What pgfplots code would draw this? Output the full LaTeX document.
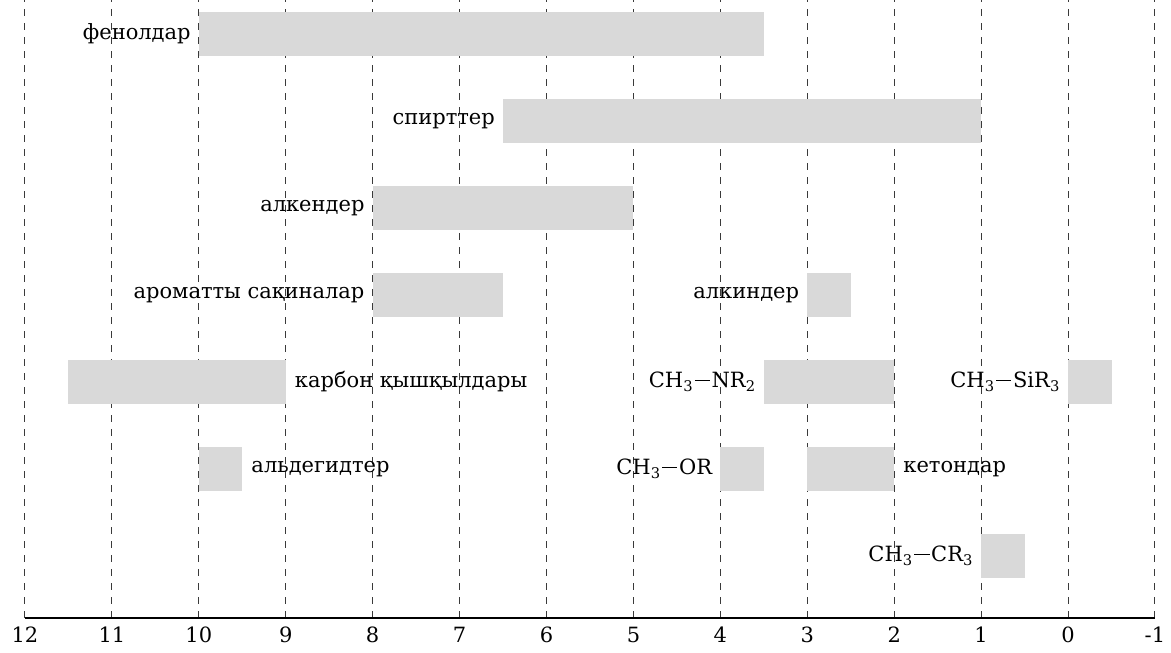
\documentclass[border=0pt]{standalone}
\usepackage{fontspec}
\setmainfont{DejaVu Serif}
\usepackage{pgfplots}
\pgfplotsset{compat=1.18}
\definecolor{barcol}{HTML}{D9D9D9}
\definecolor{gridcol}{HTML}{3A3A3A}
\newcommand{\lbl}{\fontsize{21}{24}\selectfont}
\newcommand{\bond}{\kern0.08em\rule[0.3em]{0.72em}{0.075em}\kern0.08em}
\begin{document}
\begin{tikzpicture}
\path[use as bounding box] (-25pt,-35pt) rectangle (1146pt,618pt);
\begin{axis}[
  scale only axis, width=1130pt, height=618pt,
  x dir=reverse, xmin=-1, xmax=12, ymin=0.287, ymax=7.391,
  xtick={12,11,10,9,8,7,6,5,4,3,2,1,0,-1},
  xticklabels={12,11,10,9,8,7,6,5,4,3,2,1,0,-1},
  ytick=\empty,
  axis x line=bottom, axis y line=none,
  x axis line style={-, line width=1.5pt, black},
  major tick length=0pt,
  xmajorgrids,
  grid style={dashed, dash pattern=on 7pt off 7pt, gridcol, line width=1pt},
  xticklabel style={font=\lbl, inner sep=0pt, anchor=north, yshift=-9pt},
  clip=false,
]
% y = row (7 top ... 1 bottom), bars from x1 to x2, half height 0.25
\addplot[fill=barcol, draw=none] coordinates {(10,6.75) (3.5,6.75) (3.5,7.25) (10,7.25)} -- cycle;
\addplot[fill=barcol, draw=none] coordinates {(6.5,5.75) (1,5.75) (1,6.25) (6.5,6.25)} -- cycle;
\addplot[fill=barcol, draw=none] coordinates {(8,4.75) (5,4.75) (5,5.25) (8,5.25)} -- cycle;
\addplot[fill=barcol, draw=none] coordinates {(8,3.75) (6.5,3.75) (6.5,4.25) (8,4.25)} -- cycle;
\addplot[fill=barcol, draw=none] coordinates {(3,3.75) (2.5,3.75) (2.5,4.25) (3,4.25)} -- cycle;
\addplot[fill=barcol, draw=none] coordinates {(11.5,2.75) (9,2.75) (9,3.25) (11.5,3.25)} -- cycle;
\addplot[fill=barcol, draw=none] coordinates {(3.5,2.75) (2,2.75) (2,3.25) (3.5,3.25)} -- cycle;
\addplot[fill=barcol, draw=none] coordinates {(0,2.75) (-0.5,2.75) (-0.5,3.25) (0,3.25)} -- cycle;
\addplot[fill=barcol, draw=none] coordinates {(10,1.75) (9.5,1.75) (9.5,2.25) (10,2.25)} -- cycle;
\addplot[fill=barcol, draw=none] coordinates {(4,1.75) (3.5,1.75) (3.5,2.25) (4,2.25)} -- cycle;
\addplot[fill=barcol, draw=none] coordinates {(3,1.75) (2,1.75) (2,2.25) (3,2.25)} -- cycle;
\addplot[fill=barcol, draw=none] coordinates {(1,0.75) (0.5,0.75) (0.5,1.25) (1,1.25)} -- cycle;

\begin{scope}[every node/.style={font=\lbl, inner sep=0pt}]
\node[anchor=east, xshift=-8pt] at (axis cs:10,7) {фенолдар};
\node[anchor=east, xshift=-8pt] at (axis cs:6.5,6) {спирттер};
\node[anchor=east, xshift=-8pt] at (axis cs:8,5) {алкендер};
\node[anchor=east, xshift=-8pt] at (axis cs:8,4) {ароматты сақиналар};
\node[anchor=east, xshift=-8pt] at (axis cs:3,4) {алкиндер};
\node[anchor=west, xshift=9pt] at (axis cs:9,3) {карбон қышқылдары};
\node[anchor=east, xshift=-8pt] at (axis cs:3.5,3) {CH\textsubscript{3}\bond NR\textsubscript{2}};
\node[anchor=east, xshift=-8pt] at (axis cs:0,3) {CH\textsubscript{3}\bond SiR\textsubscript{3}};
\node[anchor=west, xshift=9pt] at (axis cs:9.5,2) {альдегидтер};
\node[anchor=east, xshift=-8pt] at (axis cs:4,2) {CH\textsubscript{3}\bond OR};
\node[anchor=west, xshift=9pt] at (axis cs:2,2) {кетондар};
\node[anchor=east, xshift=-8pt] at (axis cs:1,1) {CH\textsubscript{3}\bond CR\textsubscript{3}};
\end{scope}
\end{axis}
\end{tikzpicture}
\end{document}
